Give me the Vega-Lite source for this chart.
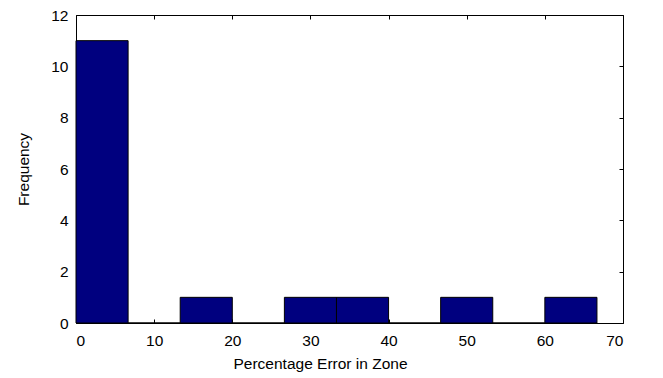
{
  "$schema": "https://vega.github.io/schema/vega-lite/v6.json",
  "width": 547,
  "height": 308,
  "autosize": {"type": "none"},
  "padding": {"left": 76, "top": 15, "right": 40, "bottom": 55},
  "background": "white",
  "config": {
    "view": {"stroke": null},
    "axis": {
      "grid": false,
      "domainColor": "black",
      "domainWidth": 1,
      "tickColor": "black",
      "tickSize": -4,
      "labelColor": "black",
      "labelFont": "Liberation Sans",
      "labelFontSize": 15.5,
      "titleFont": "Liberation Sans",
      "titleFontSize": 15.5,
      "titleFontWeight": "normal",
      "titleColor": "black"
    }
  },
  "data": {
    "values": [
      {"bin_start": 0, "bin_end": 6.667, "count": 11},
      {"bin_start": 6.667, "bin_end": 13.333, "count": 0},
      {"bin_start": 13.333, "bin_end": 20, "count": 1},
      {"bin_start": 20, "bin_end": 26.667, "count": 0},
      {"bin_start": 26.667, "bin_end": 33.333, "count": 1},
      {"bin_start": 33.333, "bin_end": 40, "count": 1},
      {"bin_start": 40, "bin_end": 46.667, "count": 0},
      {"bin_start": 46.667, "bin_end": 53.333, "count": 1},
      {"bin_start": 53.333, "bin_end": 60, "count": 0},
      {"bin_start": 60, "bin_end": 66.667, "count": 1}
    ]
  },
  "layer": [
    {
      "mark": {"type": "bar", "color": "#00007f", "stroke": "black", "strokeWidth": 1},
      "encoding": {
        "x": {
          "field": "bin_start", "type": "quantitative",
          "scale": {"domain": [0, 70], "nice": false, "zero": false},
          "axis": {"orient": "bottom", "values": [0, 10, 20, 30, 40, 50, 60, 70], "title": "Percentage Error in Zone", "labelPadding": 14, "titlePadding": 8, "titleX": 244}
        },
        "x2": {"field": "bin_end"},
        "y": {
          "field": "count", "type": "quantitative",
          "scale": {"domain": [0, 12], "nice": false, "padding": 0},
          "axis": {"orient": "left", "values": [0, 2, 4, 6, 8, 10, 12], "title": "Frequency", "labelPadding": 12, "titlePadding": 19}
        },
        "y2": {"datum": 0}
      }
    },
    {
      "mark": {"type": "bar", "opacity": 0},
      "encoding": {
        "x": {
          "field": "bin_start", "type": "quantitative",
          "axis": {"orient": "top", "values": [0, 10, 20, 30, 40, 50, 60, 70], "labels": false, "title": null}
        },
        "x2": {"field": "bin_end"},
        "y": {
          "field": "count", "type": "quantitative",
          "axis": {"orient": "right", "values": [0, 2, 4, 6, 8, 10, 12], "labels": false, "title": null}
        },
        "y2": {"datum": 0}
      }
    }
  ],
  "resolve": {"axis": {"x": "independent", "y": "independent"}}
}
